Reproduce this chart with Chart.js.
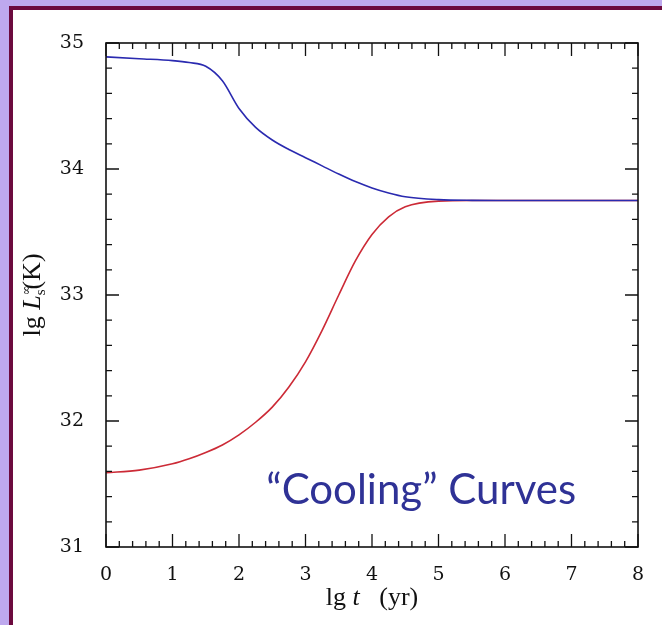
<!DOCTYPE html>
<html>
<head>
<meta charset="utf-8">
<script src="https://cdn.jsdelivr.net/npm/chart.js@4/dist/chart.umd.min.js"></script>
<style>
  html, body { margin: 0; padding: 0; }
  body { width: 662px; height: 625px; background: #bea9ee; position: relative; overflow: hidden; }
  .panel { position: absolute; left: 9px; top: 6px; width: 680px; height: 640px;
           background: #fff; border: 4px solid #6c0a3e; }
  .wrap { position: absolute; left: 0; top: 0; width: 662px; height: 625px; }
</style>
</head>
<body>
<div class="panel"></div>
<div class="wrap"><canvas id="cooling" width="662" height="625"></canvas></div>
<script>

// lg t (yr)
const lgT = [0, 0.5, 1, 1.25, 1.5, 1.75, 2, 2.25, 2.5, 2.75, 3, 3.25, 3.5, 3.75, 4, 4.25, 4.5, 5, 5.5, 6, 7, 8];
// upper curve (blue)
const upperL = [34.89, 34.875, 34.86, 34.845, 34.815, 34.70, 34.48, 34.33, 34.23, 34.155, 34.09, 34.025, 33.96, 33.90, 33.85, 33.81, 33.78, 33.757, 33.751, 33.75, 33.75, 33.75];
// lower curve (red)
const lowerL = [31.59, 31.61, 31.66, 31.70, 31.75, 31.81, 31.89, 31.99, 32.11, 32.27, 32.47, 32.72, 33.00, 33.27, 33.48, 33.62, 33.70, 33.745, 33.75, 33.75, 33.75, 33.75];

const xTicks = [0, 1, 2, 3, 4, 5, 6, 7, 8];
const yTicks = [31, 32, 33, 34, 35];

const noteText = '\u201CCooling\u201D Curves';

drawCooling();

function drawCooling() {
    const ctx = document.getElementById('cooling');

    const toPoints = (ys) => lgT.map((t, i) => ({ x: t, y: ys[i] }));

    // inward ticks on all four sides + frame + axis titles + note
    const framePlugin = {
        id: 'frame',
        afterDraw(chart) {
            const c = chart.ctx;
            const a = chart.chartArea;
            const xs = chart.scales.x;
            const ys = chart.scales.y;
            c.save();
            c.strokeStyle = '#111';
            c.lineWidth = 1.6;
            c.strokeRect(a.left, a.top, a.right - a.left, a.bottom - a.top);

            c.lineWidth = 1.3;
            c.beginPath();
            for (let k = 0; k <= 40; k++) {
                const v = k * 0.2;
                const len = k % 5 === 0 ? 13 : 6;
                const px = xs.getPixelForValue(v);
                c.moveTo(px, a.bottom); c.lineTo(px, a.bottom - len);
                c.moveTo(px, a.top); c.lineTo(px, a.top + len);
            }
            for (let k = 0; k <= 20; k++) {
                const v = 31 + k * 0.2;
                const len = k % 5 === 0 ? 13 : 6;
                const py = ys.getPixelForValue(v);
                c.moveTo(a.left, py); c.lineTo(a.left + len, py);
                c.moveTo(a.right, py); c.lineTo(a.right - len, py);
            }
            c.stroke();

            // x axis title: lg t  (yr)
            c.fillStyle = '#111';
            c.textBaseline = 'alphabetic';
            const xc = (a.left + a.right) / 2;
            const by = 605;
            const f1 = '26px "Liberation Serif", "DejaVu Serif", serif';
            const f2 = 'italic 26px "Liberation Serif", "DejaVu Serif", serif';
            const parts = [['lg ', f1], ['t', f2], ['   (yr)', f1]];
            let w = 0;
            parts.forEach(p => { c.font = p[1]; w += c.measureText(p[0]).width; });
            let x = xc - w / 2;
            parts.forEach(p => { c.font = p[1]; c.textAlign = 'left'; c.fillText(p[0], x, by); x += c.measureText(p[0]).width; });

            // y axis title: lg L_s^inf (K)
            c.save();
            c.translate(40, (a.top + a.bottom) / 2);
            c.rotate(-Math.PI / 2);
            const segs = [
                ['lg ', f1, 0],
                ['L', f2, 0],
                ['\u221E', '12px "DejaVu Serif", serif', -10, true],
                ['s', '15px "Liberation Serif", serif', 5],
                ['(K)', f1, 0]
            ];
            let tw = 0;
            segs.forEach(s => { c.font = s[1]; if (!s[3]) tw += c.measureText(s[0]).width; });
            let tx = -tw / 2;
            segs.forEach(s => {
                c.font = s[1];
                c.fillText(s[0], tx, s[2]);
                if (!s[3]) tx += c.measureText(s[0]).width;
            });
            c.restore();

            // note
            c.font = '42px "Comic Sans MS", "Lato", "DejaVu Sans", sans-serif';
            c.fillStyle = '#2f3296';
            c.textAlign = 'center';
            c.textBaseline = 'middle';
            c.fillText(noteText, xs.getPixelForValue(4.74), ys.getPixelForValue(31.45));
            c.restore();
        }
    };

    new Chart(ctx, {
        type: 'line',
        data: {
            datasets: [{
                label: 'upper',
                data: toPoints(upperL),
                borderColor: '#2a2ab0',
                borderWidth: 1.6,
                pointRadius: 0,
                cubicInterpolationMode: 'monotone',
                fill: false
            }, {
                label: 'lower',
                data: toPoints(lowerL),
                borderColor: '#cc2a36',
                borderWidth: 1.6,
                pointRadius: 0,
                cubicInterpolationMode: 'monotone',
                fill: false
            }]
        },
        options: {
            responsive: false,
            animation: false,
            events: [],
            layout: {
                padding: { left: 0, top: 43, right: 24, bottom: 0 }
            },
            plugins: {
                legend: { display: false },
                tooltip: { enabled: false }
            },
            scales: {
                x: {
                    type: 'linear',
                    min: 0,
                    max: 8,
                    afterFit: (s) => { s.height = 78; },
                    afterBuildTicks: (s) => { s.ticks = xTicks.map(v => ({ value: v })); },
                    grid: { display: false },
                    border: { display: false },
                    ticks: {
                        padding: 9,
                        color: '#111',
                        font: { family: '"DejaVu Serif", serif', size: 19 }
                    }
                },
                y: {
                    type: 'linear',
                    min: 31,
                    max: 35,
                    afterFit: (s) => { s.width = 106; },
                    afterBuildTicks: (s) => { s.ticks = yTicks.map(v => ({ value: v })); },
                    grid: { display: false },
                    border: { display: false },
                    ticks: {
                        padding: 14,
                        color: '#111',
                        font: { family: '"DejaVu Serif", serif', size: 19 }
                    }
                }
            }
        },
        plugins: [framePlugin]
    });
}
</script>
</body>
</html>
